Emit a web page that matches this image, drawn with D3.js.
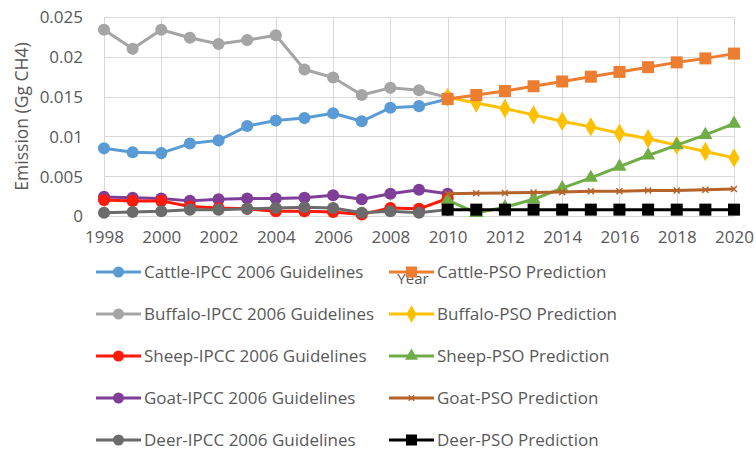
<!DOCTYPE html>
<html>
<head>
<meta charset="utf-8">
<script src="https://cdn.jsdelivr.net/npm/d3@7"></script>
<style>
  body { margin: 0; background: #fff; }
  svg text { font-family: "Open Sans", sans-serif; fill: #595959; }
</style>
</head>
<body>
<svg id="chart" width="756" height="450"></svg>
<script>
// observed years (IPCC 2006 Guidelines) and predicted years (PSO)
const ipccYears = d3.range(1998, 2011)
const psoYears = d3.range(2010, 2021)
const xTicks = d3.range(1998, 2021, 2)
const yTicks = [0, 0.005, 0.01, 0.015, 0.02, 0.025]

const cattleIpcc  = [0.0085, 0.0080, 0.0079, 0.0091, 0.0095, 0.0113, 0.0120, 0.0123, 0.0129, 0.0119, 0.0136, 0.0138, 0.0147]
const buffaloIpcc = [0.0234, 0.0210, 0.0234, 0.0224, 0.0216, 0.0221, 0.0227, 0.0184, 0.0174, 0.0152, 0.0161, 0.0158, 0.0149]
const sheepIpcc   = [0.0020, 0.0019, 0.0019, 0.0012, 0.0010, 0.0009, 0.0006, 0.0006, 0.0005, 0.0002, 0.0010, 0.0009, 0.0022]
const goatIpcc    = [0.0024, 0.0023, 0.0022, 0.0019, 0.0021, 0.0022, 0.0022, 0.0023, 0.0026, 0.0021, 0.0028, 0.0033, 0.0028]
const deerIpcc    = [0.0004, 0.0005, 0.0006, 0.0008, 0.0008, 0.0009, 0.0010, 0.0011, 0.0010, 0.0004, 0.0006, 0.0004, 0.0008]

const cattlePso  = [0.0147, 0.0152, 0.0157, 0.0163, 0.0169, 0.0175, 0.0181, 0.0187, 0.0193, 0.0198, 0.0204]
const buffaloPso = [0.0149, 0.0142, 0.0135, 0.0127, 0.0119, 0.0112, 0.0104, 0.0097, 0.0089, 0.0081, 0.0073]
const sheepPso   = [0.0020, 0.0004, 0.0011, 0.0021, 0.0035, 0.0048, 0.0062, 0.0076, 0.0089, 0.0102, 0.0116]
const goatPso    = [0.0028, 0.00285, 0.0029, 0.00295, 0.0030, 0.0031, 0.0031, 0.0032, 0.0032, 0.0033, 0.0034]
const deerPso    = [0.0008, 0.0008, 0.0008, 0.0008, 0.0008, 0.0008, 0.0008, 0.0008, 0.0008, 0.0008, 0.0008]

// legend order: rows left->right
const series = [
  { name: 'Cattle-IPCC 2006 Guidelines',  years: ipccYears, values: cattleIpcc,  color: '#5B9BD5', marker: 'circle' },
  { name: 'Cattle-PSO Prediction',        years: psoYears,  values: cattlePso,   color: '#ED7D31', marker: 'square' },
  { name: 'Buffalo-IPCC 2006 Guidelines', years: ipccYears, values: buffaloIpcc, color: '#A5A5A5', marker: 'circle' },
  { name: 'Buffalo-PSO Prediction',       years: psoYears,  values: buffaloPso,  color: '#FFC000', marker: 'diamond' },
  { name: 'Sheep-IPCC 2006 Guidelines',   years: ipccYears, values: sheepIpcc,   color: '#FF1A0A', marker: 'circle' },
  { name: 'Sheep-PSO Prediction',         years: psoYears,  values: sheepPso,    color: '#70AD47', marker: 'triangle' },
  { name: 'Goat-IPCC 2006 Guidelines',    years: ipccYears, values: goatIpcc,    color: '#7F3F98', marker: 'circle' },
  { name: 'Goat-PSO Prediction',          years: psoYears,  values: goatPso,     color: '#B4642A', marker: 'x' },
  { name: 'Deer-IPCC 2006 Guidelines',    years: ipccYears, values: deerIpcc,    color: '#6B6B6B', marker: 'circle' },
  { name: 'Deer-PSO Prediction',          years: psoYears,  values: deerPso,     color: '#000000', marker: 'square' }
]
// draw order as in the picture (predictions on top of observations)
const drawOrder = [2, 0, 6, 4, 8, 3, 1, 5, 7, 9]

const svg = d3.select('#chart')
const plot = { left: 104, right: 734, top: 17, bottom: 216 }

const x = d3.scaleLinear().domain([1998, 2020]).range([plot.left, plot.right])
const y = d3.scaleLinear().domain([0, 0.025]).range([plot.bottom, plot.top])

// gridlines
const grid = svg.append('g').attr('stroke', '#D9D9D9').attr('stroke-width', 1)
grid.selectAll('line.h').data(yTicks).join('line').attr('class', 'h')
  .attr('x1', plot.left).attr('x2', plot.right)
  .attr('y1', d => Math.round(y(d)) + 0.5).attr('y2', d => Math.round(y(d)) + 0.5)
grid.selectAll('line.v').data(xTicks).join('line').attr('class', 'v')
  .attr('y1', plot.top).attr('y2', plot.bottom)
  .attr('x1', d => Math.round(x(d)) + 0.5).attr('x2', d => Math.round(x(d)) + 0.5)

// axes (labels only, Excel style)
const yAxis = svg.append('g').attr('transform', `translate(${plot.left - 21},0)`)
  .call(d3.axisLeft(y).tickValues(yTicks).tickSize(0).tickPadding(0).tickFormat(d => d === 0 ? '0' : String(+d.toFixed(3))))
yAxis.select('.domain').remove()
yAxis.selectAll('text').style('font-size', '17px').attr('dy', '0.35em')

const xAxis = svg.append('g').attr('transform', `translate(0,${plot.bottom + 15})`)
  .call(d3.axisBottom(x).tickValues(xTicks).tickSize(0).tickPadding(0).tickFormat(d3.format('d')))
xAxis.select('.domain').remove()
xAxis.selectAll('text').style('font-size', '17px')

svg.append('text').attr('transform', `translate(28,${(plot.top + plot.bottom) / 2}) rotate(-90)`)
  .attr('text-anchor', 'middle').style('font-size', '17.5px').text('Emission (Gg CH4)')

svg.append('text').attr('x', 413).attr('y', 284).attr('text-anchor', 'middle')
  .style('font-size', '15px').text('Year')

function drawMarker(g, type, color, size) {
  const s = size
  if (type === 'circle') g.append('circle').attr('r', s * 0.55).attr('fill', color)
  else if (type === 'square') g.append('rect').attr('x', -s / 2).attr('y', -s / 2).attr('width', s).attr('height', s).attr('fill', color)
  else if (type === 'diamond') g.append('path').attr('d', d3.symbol(d3.symbolDiamond, s * s * 0.75)()).attr('fill', color)
  else if (type === 'triangle') g.append('path').attr('d', d3.symbol(d3.symbolTriangle, s * s * 0.6)()).attr('fill', color)
  else if (type === 'x') {
    const h = s * 0.25
    g.append('path').attr('d', `M${-h},${-h}L${h},${h}M${-h},${h}L${h},${-h}`)
      .attr('stroke', color).attr('stroke-width', 1.5).attr('fill', 'none')
  }
}

const line = d3.line().x(d => x(d[0])).y(d => y(d[1]))
const lines = svg.append('g')
drawOrder.forEach(i => {
  const s = series[i]
  const pts = s.years.map((yr, k) => [yr, s.values[k]])
  const g = lines.append('g')
  g.append('path').datum(pts).attr('d', line).attr('fill', 'none')
    .attr('stroke', s.color).attr('stroke-width', 3).attr('stroke-linejoin', 'round')
  g.selectAll('g.m').data(pts).join('g').attr('class', 'm')
    .attr('transform', d => `translate(${x(d[0])},${y(d[1])})`)
    .each(function() { drawMarker(d3.select(this), s.marker, s.color, s.marker === 'circle' ? 11 : 12) })
})

// legend, two columns
const legend = svg.append('g')
series.forEach((s, i) => {
  const col = i % 2, row = Math.floor(i / 2)
  const lx = col === 0 ? 96 : 389
  const ly = 272 + row * 42
  const g = legend.append('g').attr('transform', `translate(${lx},${ly})`)
  g.append('line').attr('x1', 0).attr('x2', 45).attr('stroke', s.color).attr('stroke-width', 3)
  const m = g.append('g').attr('transform', 'translate(22.5,0)')
  drawMarker(m, s.marker, s.color, s.marker === 'circle' ? 10 : 11)
  g.append('text').attr('x', 48).attr('dy', '0.35em').style('font-size', '17px').text(s.name)
})
</script>
</body>
</html>
